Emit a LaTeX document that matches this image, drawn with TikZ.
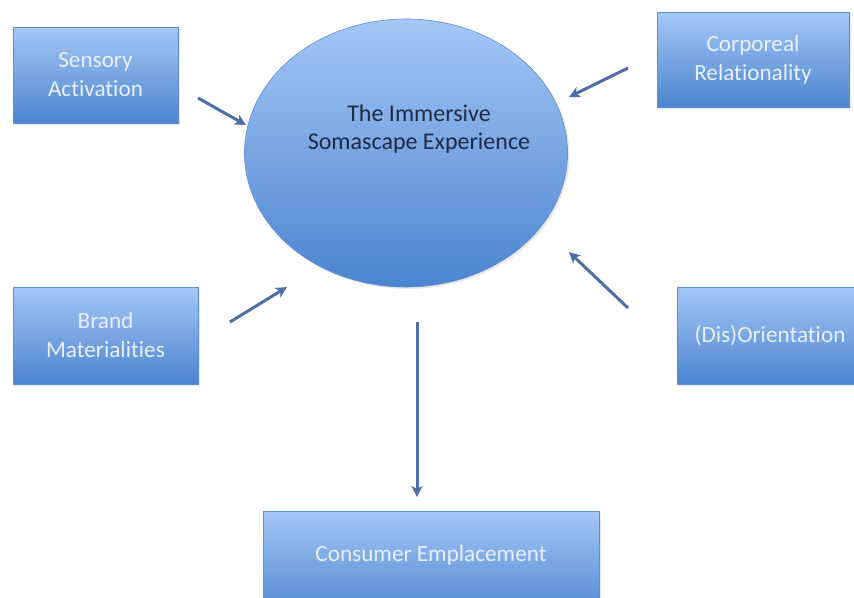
\documentclass[tikz,border=0pt]{standalone}
\usepackage{fontspec}
\setmainfont[Ligatures=NoCommon]{Carlito}
\usetikzlibrary{arrows.meta,shapes.geometric,shadows}
\definecolor{boxtop}{HTML}{A4C7F6}
\definecolor{boxbot}{HTML}{4C84D0}
\definecolor{boxline}{HTML}{5F8ED0}
\definecolor{arrowc}{HTML}{4D6FA5}
\definecolor{lighttext}{HTML}{E9F0FA}
\definecolor{darktext}{HTML}{1E2B45}
\tikzset{
  factor/.style={rectangle, draw=boxline, line width=0.6pt, top color=boxtop, bottom color=boxbot,
    middle color=boxtop!50!boxbot, inner sep=0pt, text=lighttext, align=center,
    font=\fontsize{23.2}{29}\selectfont,
    drop shadow={opacity=0.18, shadow xshift=2pt, shadow yshift=-2pt}},
  core/.style={ellipse, draw=boxline, line width=0.6pt, top color=boxtop, bottom color=boxbot,
    middle color=boxtop!50!boxbot, inner sep=0pt,
    drop shadow={opacity=0.18, shadow xshift=2pt, shadow yshift=-2pt}},
  coretext/.style={text=darktext, align=center, font=\fontsize{24}{28}\selectfont},
  flow/.style={draw=arrowc, line width=3pt, -{Stealth[length=11pt,width=11pt,inset=3pt]}}
}
\begin{document}
\begin{tikzpicture}[x=1pt,y=-1pt]
\useasboundingbox (0,0) rectangle (854,597);
\fill[white] (0,0) rectangle (854,597);

\node[core, minimum width=323pt, minimum height=268pt] (ell) at (406,153) {};
\node[coretext] (elltext) at (419,129) {The Immersive\\Somascape Experience};

\node[factor, minimum width=165pt, minimum height=96pt] (sens) at (95.5,75) {Sensory\\Activation};
\node[factor, minimum width=192pt, minimum height=95pt] (corp) at (753,59.5) {Corporeal\\Relationality};
\node[factor, minimum width=185pt, minimum height=97pt] (brand) at (105.5,335.5) {Brand\\Materialities};
\node[factor, minimum width=186pt, minimum height=97pt] (dis) at (770,335.5) {(Dis)Orientation};
\node[factor, minimum width=336pt, minimum height=110pt] (cons) at (431,566) {};
\node[text=lighttext, font=\fontsize{23.2}{29}\selectfont] (constext) at (431,555) {Consumer Emplacement};

\coordinate (s1) at (198,98);   \coordinate (s2) at (246,125);
\coordinate (c1) at (628,68);   \coordinate (c2) at (569,97);
\coordinate (b1) at (230,322);  \coordinate (b2) at (287,287);
\coordinate (d1) at (628,308);  \coordinate (d2) at (569,252);
\coordinate (e1) at (417,322);  \coordinate (e2) at (417,497);

\draw[flow] (s1) -- (s2);
\draw[flow] (c1) -- (c2);
\draw[flow] (b1) -- (b2);
\draw[flow] (d1) -- (d2);
\draw[flow] (e1) -- (e2);
\end{tikzpicture}
\end{document}
